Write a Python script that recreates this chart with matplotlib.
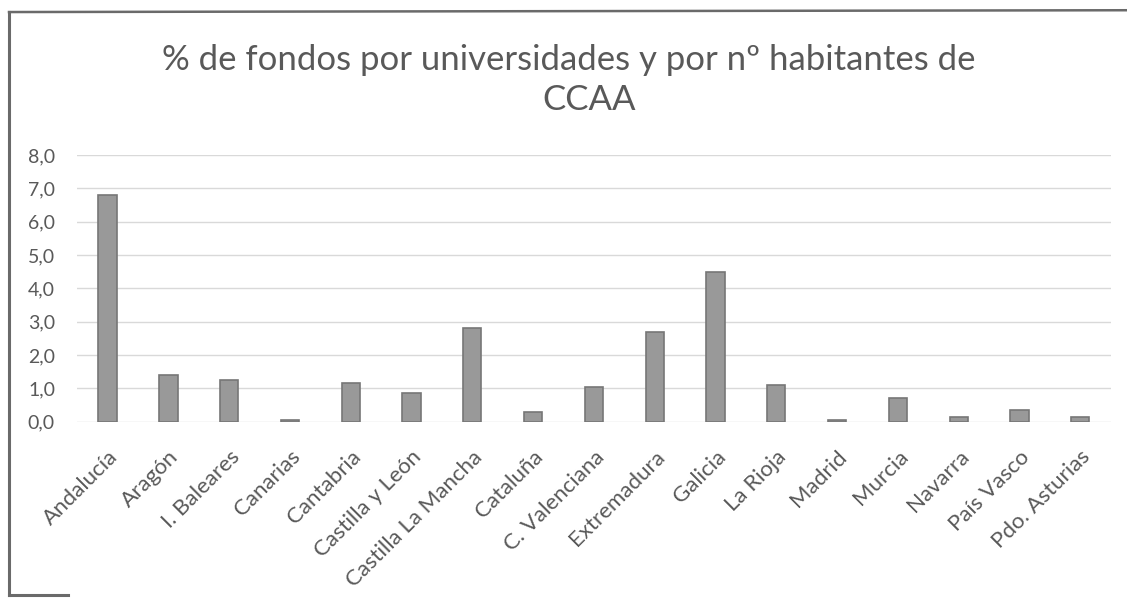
import matplotlib.pyplot as plt
from matplotlib.lines import Line2D

regiones = ["Andalucía", "Aragón", "I. Baleares", "Canarias", "Cantabria",
            "Castilla y León", "Castilla La Mancha", "Cataluña", "C. Valenciana",
            "Extremadura", "Galicia", "La Rioja", "Madrid", "Murcia", "Navarra",
            "País Vasco", "Pdo. Asturias"]
porcentaje = [6.8, 1.4, 1.25, 0.05, 1.15, 0.85, 2.8, 0.3, 1.05,
              2.7, 4.5, 1.1, 0.05, 0.7, 0.15, 0.35, 0.15]
y_ticks = [0, 1, 2, 3, 4, 5, 6, 7, 8]

plt.rcParams['font.family'] = ['Lato', 'DejaVu Sans']
texto = "#595959"

fig = plt.figure(figsize=(11.27, 6.02), dpi=100)
ax = fig.add_axes([0.0685, 0.2995, 0.917, 0.443])

ax.bar(range(len(regiones)), porcentaje, width=0.3, color="#999999",
       edgecolor="#777777", linewidth=1.2, zorder=3)

ax.set_xlim(-0.5, len(regiones) - 0.5)
ax.set_ylim(0, 8)
ax.set_yticks(y_ticks)
ax.set_yticklabels([f"{v:.1f}".replace(".", ",") for v in y_ticks],
                   fontsize=14, color=texto)
ax.set_xticks(range(len(regiones)))
ax.set_xticklabels(regiones, rotation=45, ha="right", rotation_mode="anchor",
                   fontsize=16, color=texto)
ax.tick_params(axis="both", length=0)
ax.tick_params(axis="y", pad=16)
ax.tick_params(axis="x", pad=18)
ax.grid(axis="y", color="#d9d9d9", linewidth=1.0, zorder=0)
for s in ax.spines.values():
    s.set_visible(False)

fig.text(0.505, 0.9, "% de fondos por universidades y por nº habitantes de",
         ha="center", va="center", fontsize=25, color=texto)
fig.text(0.523, 0.834, "CCAA", ha="center", va="center", fontsize=25, color=texto)

# scanned frame: left and top edges, short piece at the bottom
borde = "#6a6a6a"
fig.add_artist(Line2D([0.008, 0.008], [0.012, 0.98], color=borde, lw=2.2))
fig.add_artist(Line2D([0.008, 1.0], [0.98, 0.983], color=borde, lw=1.8))
fig.add_artist(Line2D([0.008, 0.06], [0.012, 0.012], color=borde, lw=2.2))

fig.savefig("out.png", dpi=100, facecolor="white")
